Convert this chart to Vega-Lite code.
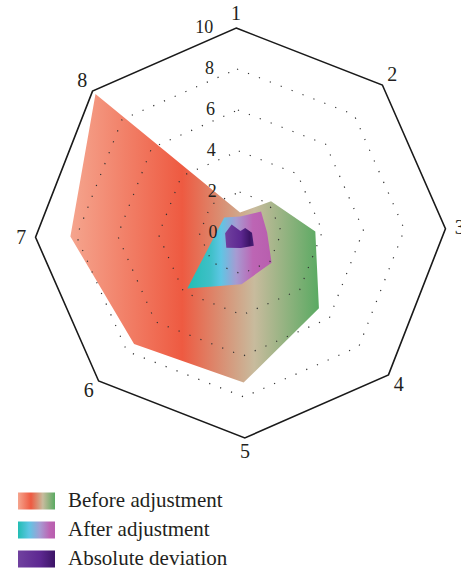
{
  "$schema": "https://vega.github.io/schema/vega-lite/v6.json",
  "width": 410,
  "height": 410,
  "autosize": "none",
  "padding": {"left": 35.5, "top": 28, "right": 15.5, "bottom": 131},
  "background": "white",
  "config": {"view": {"stroke": null}},
  "datasets": {
    "radar": [
      {"series": "Before adjustment", "k": 1, "v": 1.0},
      {"series": "Before adjustment", "k": 2, "v": 2.15},
      {"series": "Before adjustment", "k": 3, "v": 3.65},
      {"series": "Before adjustment", "k": 4, "v": 5.3},
      {"series": "Before adjustment", "k": 5, "v": 7.3},
      {"series": "Before adjustment", "k": 6, "v": 7.5},
      {"series": "Before adjustment", "k": 7, "v": 8.3},
      {"series": "Before adjustment", "k": 8, "v": 9.8},
      {"series": "After adjustment", "k": 1, "v": 0.8},
      {"series": "After adjustment", "k": 2, "v": 1.45},
      {"series": "After adjustment", "k": 3, "v": 1.3},
      {"series": "After adjustment", "k": 4, "v": 2.1},
      {"series": "After adjustment", "k": 5, "v": 2.5},
      {"series": "After adjustment", "k": 6, "v": 3.75},
      {"series": "After adjustment", "k": 7, "v": 1.2},
      {"series": "After adjustment", "k": 8, "v": 1.1},
      {"series": "Absolute deviation", "k": 1, "v": 0.1},
      {"series": "Absolute deviation", "k": 2, "v": 0.33},
      {"series": "Absolute deviation", "k": 3, "v": 0.56},
      {"series": "Absolute deviation", "k": 4, "v": 0.9},
      {"series": "Absolute deviation", "k": 5, "v": 0.73},
      {"series": "Absolute deviation", "k": 6, "v": 1.0},
      {"series": "Absolute deviation", "k": 7, "v": 0.75},
      {"series": "Absolute deviation", "k": 8, "v": 0.6}
    ],
    "rings": [
      {"ring": 2, "ks": [1, 2, 3, 4, 5, 6, 7, 8]},
      {"ring": 4, "ks": [1, 2, 3, 4, 5, 6, 7, 8]},
      {"ring": 6, "ks": [1, 2, 3, 4, 5, 6, 7, 8]},
      {"ring": 8, "ks": [1, 2, 3, 4, 5, 6, 7, 8]},
      {"ring": 10, "ks": [1, 2, 3, 4, 5, 6, 7, 8]}
    ],
    "ticks": [{"t": 0}, {"t": 2}, {"t": 4}, {"t": 6}, {"t": 8}, {"t": 10}],
    "spokes": [{"k": 1}, {"k": 2}, {"k": 3}, {"k": 4}, {"k": 5}, {"k": 6}, {"k": 7}, {"k": 8}]
  },
  "layer": [
    {
      "data": {"name": "radar"},
      "transform": [
        {"filter": "datum.series === 'Before adjustment'"},
        {"calculate": "datum.v * sin((datum.k - 1) * PI / 4 - 0.021)", "as": "px"},
        {"calculate": "datum.v * cos((datum.k - 1) * PI / 4 - 0.021)", "as": "py"}
      ],
      "mark": {"type": "line", "interpolate": "linear-closed", "strokeWidth": 0, "strokeOpacity": 0,
        "fill": {"gradient": "linear", "x1": 0, "y1": 0, "x2": 1, "y2": 0, "stops": [{"offset": 0, "color": "#f5a58e"}, {"offset": 0.45, "color": "#ee5a41"}, {"offset": 0.74, "color": "#c8bb9d"}, {"offset": 1, "color": "#5aaa62"}]}},
      "encoding": {
        "x": {"field": "px", "type": "quantitative", "scale": {"domain": [-10, 10], "nice": false, "zero": false}, "axis": null},
        "y": {"field": "py", "type": "quantitative", "scale": {"domain": [-10, 10], "nice": false, "zero": false}, "axis": null},
        "order": {"field": "k", "type": "quantitative"}
      }
    },
    {
      "data": {"name": "radar"},
      "transform": [
        {"filter": "datum.series === 'After adjustment'"},
        {"calculate": "datum.v * sin((datum.k - 1) * PI / 4 - 0.021)", "as": "px"},
        {"calculate": "datum.v * cos((datum.k - 1) * PI / 4 - 0.021)", "as": "py"}
      ],
      "mark": {"type": "line", "interpolate": "linear-closed", "strokeWidth": 0, "strokeOpacity": 0,
        "fill": {"gradient": "linear", "x1": 0, "y1": 0, "x2": 1, "y2": 0, "stops": [{"offset": 0, "color": "#22bdb3"}, {"offset": 0.28, "color": "#3fc0c8"}, {"offset": 0.4, "color": "#5ec6e4"}, {"offset": 0.58, "color": "#a69bd2"}, {"offset": 0.78, "color": "#bd65b4"}, {"offset": 1, "color": "#b85eae"}]}},
      "encoding": {
        "x": {"field": "px", "type": "quantitative"},
        "y": {"field": "py", "type": "quantitative"},
        "order": {"field": "k", "type": "quantitative"}
      }
    },
    {
      "data": {"name": "radar"},
      "transform": [
        {"filter": "datum.series === 'Absolute deviation'"},
        {"calculate": "datum.v * sin((datum.k - 1) * PI / 4 - 0.021)", "as": "px"},
        {"calculate": "datum.v * cos((datum.k - 1) * PI / 4 - 0.021)", "as": "py"}
      ],
      "mark": {"type": "line", "interpolate": "linear-closed", "strokeWidth": 0, "strokeOpacity": 0,
        "fill": {"gradient": "linear", "x1": 0, "y1": 0, "x2": 1, "y2": 0, "stops": [{"offset": 0, "color": "#70419f"}, {"offset": 0.55, "color": "#5d2891"}, {"offset": 0.85, "color": "#3c1466"}, {"offset": 1, "color": "#4a2178"}]}},
      "encoding": {
        "x": {"field": "px", "type": "quantitative"},
        "y": {"field": "py", "type": "quantitative"},
        "order": {"field": "k", "type": "quantitative"}
      }
    },
    {
      "data": {"name": "radar"},
      "transform": [
        {"calculate": "datum.v * sin((datum.k - 1) * PI / 4 - 0.021)", "as": "px"},
        {"calculate": "datum.v * cos((datum.k - 1) * PI / 4 - 0.021)", "as": "py"}
      ],
      "mark": {
        "type": "point",
        "filled": true,
        "opacity": 0,
        "fill": {"expr": "datum.value === 'Before adjustment' ? {gradient: 'linear', x1: 0, y1: 0, x2: 1, y2: 0, stops: [{offset: 0, color: '#f5a58e'}, {offset: 0.35, color: '#ee5a41'}, {offset: 0.67, color: '#c8bb9d'}, {offset: 1, color: '#5aaa62'}]} : datum.value === 'After adjustment' ? {gradient: 'linear', x1: 0, y1: 0, x2: 1, y2: 0, stops: [{offset: 0, color: '#22bdb3'}, {offset: 0.3, color: '#5ec6e4'}, {offset: 0.6, color: '#a69bd2'}, {offset: 0.85, color: '#bd65b4'}, {offset: 1, color: '#b85eae'}]} : {gradient: 'linear', x1: 0, y1: 0, x2: 1, y2: 0, stops: [{offset: 0, color: '#70419f'}, {offset: 0.6, color: '#5d2891'}, {offset: 1, color: '#3c1466'}]}"}
      },
      "encoding": {
        "x": {"field": "px", "type": "quantitative"},
        "y": {"field": "py", "type": "quantitative"},
        "shape": {
          "field": "series",
          "type": "nominal",
          "scale": {"domain": ["Before adjustment", "After adjustment", "Absolute deviation"], "range": ["M-1,-0.46H1V0.46H-1Z", "M-1,-0.46H1V0.46H-1Z", "M-1,-0.46H1V0.46H-1Z"]},
          "legend": {
            "orient": "none",
            "legendX": -17.5,
            "legendY": 454.5,
            "title": null,
            "padding": 0,
            "symbolSize": 1369,
            "symbolStrokeWidth": 0,
            "symbolOpacity": 1,
            "labelFont": "Liberation Serif",
            "labelFontSize": 21,
            "labelColor": "#231f20",
            "labelOffset": 13,
            "labelLimit": 400,
            "rowPadding": -9
          }
        }
      }
    },
    {
      "data": {"name": "rings"},
      "transform": [
        {"filter": "datum.ring < 10"},
        {"flatten": ["ks"], "as": ["k"]},
        {"calculate": "datum.ring * sin((datum.k - 1) * PI / 4 - 0.021)", "as": "px"},
        {"calculate": "datum.ring * cos((datum.k - 1) * PI / 4 - 0.021)", "as": "py"}
      ],
      "mark": {"type": "line", "interpolate": "linear-closed", "stroke": "#333333", "strokeWidth": 1.2, "strokeDash": [1.2, 10.5], "fill": null},
      "encoding": {
        "x": {"field": "px", "type": "quantitative"},
        "y": {"field": "py", "type": "quantitative"},
        "detail": {"field": "ring", "type": "nominal"},
        "order": {"field": "k", "type": "quantitative"}
      }
    },
    {
      "data": {"name": "rings"},
      "transform": [
        {"filter": "datum.ring === 10"},
        {"flatten": ["ks"], "as": ["k"]},
        {"calculate": "datum.ring * sin((datum.k - 1) * PI / 4 - 0.021)", "as": "px"},
        {"calculate": "datum.ring * cos((datum.k - 1) * PI / 4 - 0.021)", "as": "py"}
      ],
      "mark": {"type": "line", "interpolate": "linear-closed", "stroke": "#1a1a1a", "strokeWidth": 1.6, "fill": null},
      "encoding": {
        "x": {"field": "px", "type": "quantitative"},
        "y": {"field": "py", "type": "quantitative"},
        "detail": {"field": "ring", "type": "nominal"},
        "order": {"field": "k", "type": "quantitative"}
      }
    },
    {
      "data": {"name": "ticks"},
      "transform": [
        {"calculate": "datum.t * sin(-0.021)", "as": "px"},
        {"calculate": "datum.t * cos(-0.021)", "as": "py"}
      ],
      "mark": {"type": "text", "align": "right", "baseline": "middle", "dx": -23, "font": "Liberation Serif", "fontSize": 18, "color": "#231f20"},
      "encoding": {
        "x": {"field": "px", "type": "quantitative"},
        "y": {"field": "py", "type": "quantitative"},
        "text": {"field": "t", "type": "quantitative"}
      }
    },
    {
      "data": {"name": "spokes"},
      "transform": [
        {"calculate": "10.7 * sin((datum.k - 1) * PI / 4 - 0.021)", "as": "px"},
        {"calculate": "10.7 * cos((datum.k - 1) * PI / 4 - 0.021)", "as": "py"}
      ],
      "mark": {"type": "text", "align": "center", "baseline": "middle", "font": "Liberation Serif", "fontSize": 20, "color": "#231f20"},
      "encoding": {
        "x": {"field": "px", "type": "quantitative"},
        "y": {"field": "py", "type": "quantitative"},
        "text": {"field": "k", "type": "quantitative"}
      }
    }
  ]
}
